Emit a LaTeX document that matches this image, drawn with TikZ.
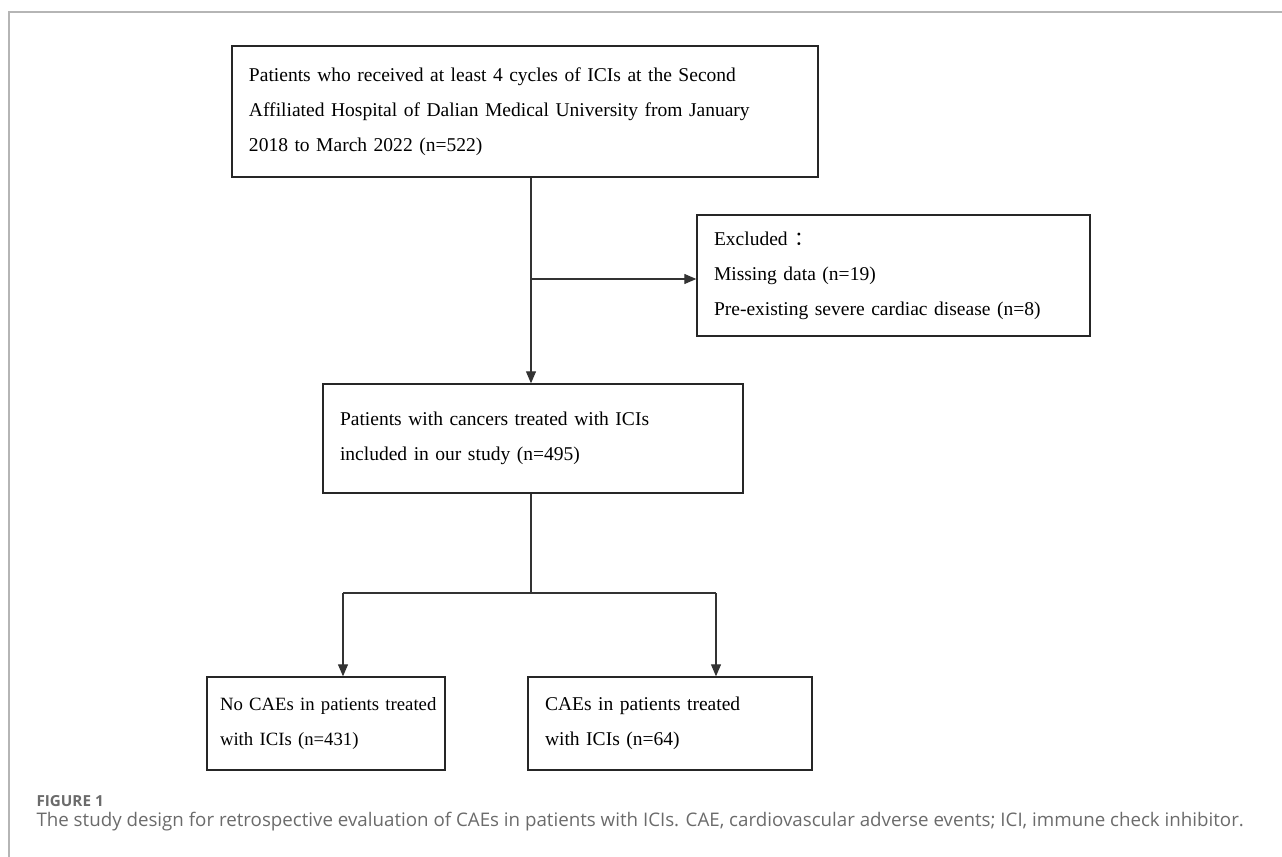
\documentclass[tikz,border=0pt]{standalone}
\usepackage{fontspec}
\setmainfont{Liberation Serif}
\newfontfamily\capfont{Open Sans}
\newfontfamily\cjk{Noto Sans CJK SC}
\usetikzlibrary{arrows.meta,scopes}
\definecolor{framegray}{HTML}{B5B5B5}
\definecolor{capgray}{HTML}{6B6B6B}
\begin{document}
\begin{tikzpicture}[x=1bp,y=-1bp,
  box/.style={draw=black!85,line width=1.4bp,rectangle,inner xsep=17bp,inner ysep=0bp,
              align=left,font=\fontsize{19.6}{35}\selectfont},
  >={Triangle[length=12bp,width=10bp]}]
\useasboundingbox (0,0) rectangle (1282,857);
\draw[framegray,line width=1.5bp] (9,857) -- (9,12) -- (1282,12);

\path node[box,minimum width=586bp,minimum height=131bp,text width=552bp] (start) at (525,111.5)
           {Patients who received at least 4 cycles of ICIs at the Second\\
            Affiliated Hospital of Dalian Medical University from January\\
            2018 to March 2022 (n=522)}
      node[box,minimum width=393bp,minimum height=121bp,text width=359bp] (excl)  at (893.5,275.5)
           {Excluded {\cjk ：}\\
            Missing data (n=19)\\
            Pre-existing severe cardiac disease (n=8)}
      node[box,minimum width=420bp,minimum height=109bp,text width=386bp] (incl)  at (533,438.5)
           {Patients with cancers treated with ICIs\\
            included in our study (n=495)}
      node[box,inner xsep=13bp,minimum width=238bp,minimum height=93bp,text width=212bp,
           font=\fontsize{18.8}{35}\selectfont] (nocae) at (326,723.5)
           {\mbox{No CAEs in patients treated}\\
            with ICIs (n=431)}
      node[box,minimum width=284bp,minimum height=93bp,text width=250bp]  (cae)   at (670,723.5)
           {CAEs in patients treated\\
            with ICIs (n=64)};

\coordinate (split) at (531,279);
\coordinate (fork)  at (531,593);
\coordinate (forkL) at (343,593);
\coordinate (forkR) at (716,593);

{ [draw=black!80,line width=1.2bp]
  \draw[->]  (start.south -| split) -- (incl.north -| split);
  \draw[->]  (split) -- (split -| excl.west);
  \draw      (incl.south -| fork) -- (fork);
  \draw      (forkL) -- (forkR);
  \draw[->]  (forkL) -- (forkL |- nocae.north);
  \draw[->]  (forkR) -- (forkR |- cae.north);
}

% caption
\node[anchor=west,text=capgray,font=\capfont\bfseries\fontsize{15.3}{17}\selectfont] (fig) at (33,801) {FIGURE 1};
\node[anchor=west,text=capgray,font=\capfont\fontsize{18.8}{21}\selectfont] (cap) at (33,822)
     {The study design for retrospective evaluation of CAEs in patients with ICIs. CAE, cardiovascular adverse events; ICI, immune check inhibitor.};
\end{tikzpicture}
\end{document}
